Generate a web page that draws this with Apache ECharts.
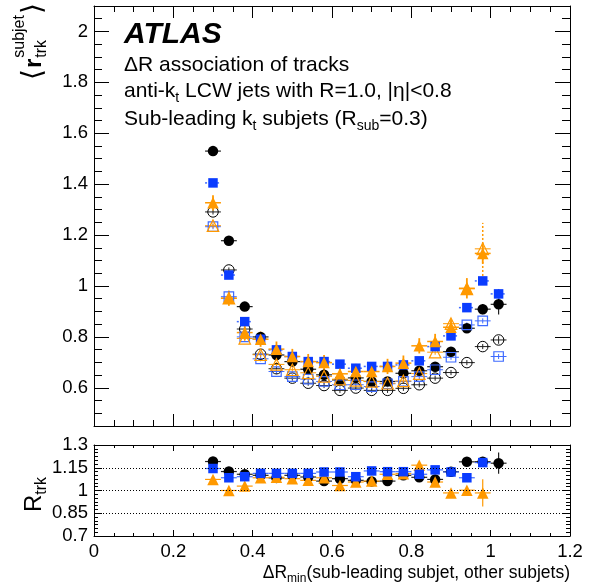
<!DOCTYPE html>
<html>
<head>
<meta charset="utf-8">
<script src="https://cdn.jsdelivr.net/npm/echarts@6/dist/echarts.min.js"></script>
<style>html,body{margin:0;padding:0;background:#fff;}#c{width:591px;height:586px;}</style>
</head>
<body>
<div id="c"></div>
<script>
// ---- data ----
const X = [0.30,0.34,0.38,0.42,0.46,0.50,0.54,0.58,0.62,0.66,0.70,0.74,0.78,0.82,0.86,0.90,0.94,0.98,1.02];
const X_HALF = 0.02;

const blackFilled  = [1.530,1.178,0.919,0.800,0.729,0.703,0.673,0.651,0.631,0.639,0.625,0.625,0.657,0.667,0.683,0.742,0.834,0.909,0.928];
const blackFilledE = [0.01,0.01,0.01,0.01,0.01,0.01,0.01,0.01,0.01,0.01,0.01,0.01,0.01,0.01,0.01,0.01,0.015,0.02,0.04];
const blackOpen    = [1.291,1.063,0.831,0.732,0.675,0.638,0.618,0.609,0.590,0.599,0.590,0.590,0.598,0.612,0.638,0.660,0.699,0.762,0.788];
const blackOpenE   = [0.01,0.01,0.01,0.01,0.01,0.01,0.01,0.01,0.01,0.01,0.01,0.01,0.01,0.01,0.01,0.01,0.01,0.01,0.015];

const blueFilled   = [1.405,1.043,0.860,0.791,0.749,0.723,0.703,0.703,0.693,0.677,0.684,0.684,0.690,0.706,0.762,0.804,0.915,1.020,0.969];
const blueFilledE  = [0.01,0.01,0.01,0.01,0.01,0.01,0.01,0.01,0.01,0.01,0.01,0.01,0.01,0.01,0.01,0.01,0.01,0.015,0.02];
const blueOpen     = [1.233,0.958,0.800,0.714,0.664,0.644,0.634,0.625,0.612,0.612,0.605,0.616,0.625,0.644,0.671,0.720,0.847,0.863,0.723];
const blueOpenE    = [0.01,0.01,0.01,0.01,0.01,0.01,0.01,0.01,0.01,0.01,0.01,0.01,0.01,0.01,0.01,0.01,0.01,0.01,0.01];

const orangeFilled  = [1.327,0.952,0.817,0.791,0.752,0.723,0.703,0.699,0.655,0.664,0.664,0.684,0.697,0.765,0.782,0.838,0.991,1.128];
const orangeFilledE = [0.03,0.03,0.03,0.03,0.03,0.03,0.03,0.03,0.03,0.03,0.03,0.03,0.03,0.03,0.03,0.03,0.04,0.04];
const orangeFilledSyst = [0,0,0,0,0,0,0,0,0,0,0,0,0,0,0,0,0,0.12];
const orangeOpen    = [1.237,0.952,0.794,0.730,0.692,0.671,0.659,0.645,0.634,0.629,0.625,0.618,0.627,0.656,0.740,0.852,0.989,1.146];
const orangeOpenE   = [0.01,0.01,0.01,0.01,0.01,0.01,0.01,0.01,0.01,0.01,0.01,0.01,0.01,0.01,0.01,0.01,0.01,0.01];

const ratioBlack   = [1.191,1.125,1.107,1.100,1.083,1.100,1.089,1.062,1.078,1.067,1.060,1.062,1.100,1.087,1.073,1.124,1.189,1.190,1.180];
const ratioBlackE  = [0.01,0.01,0.01,0.01,0.01,0.01,0.01,0.01,0.01,0.01,0.01,0.01,0.01,0.01,0.01,0.01,0.01,0.01,0.07];
const ratioBlue    = [1.145,1.084,1.091,1.113,1.113,1.113,1.113,1.122,1.122,1.091,1.129,1.124,1.124,1.107,1.136,1.122,1.084,1.184];
const ratioBlueE   = [0.01,0.01,0.01,0.01,0.01,0.01,0.01,0.01,0.01,0.01,0.01,0.01,0.01,0.01,0.01,0.01,0.01,0.015];
const ratioOrange  = [1.073,1.000,1.029,1.084,1.087,1.078,1.067,1.084,1.033,1.056,1.062,1.107,1.111,1.167,1.056,0.984,1.002,0.984];
const ratioOrangeE = [0.01,0.01,0.01,0.01,0.01,0.01,0.01,0.01,0.01,0.01,0.01,0.01,0.01,0.01,0.01,0.01,0.02,0.09];

const X_TICKS = [0,0.2,0.4,0.6,0.8,1,1.2];
const TOP_Y_TICKS = [0.6,0.8,1.0,1.2,1.4,1.6,1.8,2.0];
const LOW_Y_TICKS = [0.7,0.85,1.0,1.15,1.3];
const LOW_REF_LINES = [0.85,1.0,1.15];

// ---- styling ----
const FONT = "'Liberation Sans', Arial, sans-serif";
const BLACK = '#000000';
const BLUE = '#0a3cff';
const BLUE_L = '#3f6bff';
const ORANGE = '#ff9900';

const chart = echarts.init(document.getElementById('c'), null, {renderer:'canvas'});

function pts(arr, err) { return arr.map((v,i)=>[X[i], v, X_HALF, err ? err[i] : 0]); }

function errSeries(xi, yi, arr, err, style, vert, noHoriz) {
  return {
    type:'custom', xAxisIndex:xi, yAxisIndex:yi, clip:true, silent:true,
    encode:{x:0, y:1},
    data: pts(arr, err),
    renderItem: function(params, api) {
      const x = api.value(0), y = api.value(1), ex = api.value(2), ey = api.value(3);
      const ch = [];
      if (!noHoriz) {
        const a = api.coord([x-ex, y]), b = api.coord([x+ex, y]);
        ch.push({type:'line', shape:{x1:a[0],y1:a[1],x2:b[0],y2:b[1]}, style:Object.assign({}, style)});
      }
      if (vert && ey > 0) {
        const c = api.coord([x, y-ey]), d = api.coord([x, y+ey]);
        ch.push({type:'line', shape:{x1:c[0],y1:c[1],x2:d[0],y2:d[1]}, style:Object.assign({}, vert)});
      }
      return {type:'group', children:ch};
    }
  };
}

function marks(xi, yi, arr, symbol, size, fill, border, bw) {
  return {
    type:'scatter', xAxisIndex:xi, yAxisIndex:yi, symbol:symbol, symbolSize:size, silent:true,
    data: arr.map((v,i)=>[X[i], v]),
    itemStyle:{color:fill, borderColor:border, borderWidth:bw, opacity:1},
    emphasis:{disabled:true}
  };
}

const tickLab = v => String(Math.round(v*100)/100);

function xAxis(grid, pos, label, major, minor) {
  return {
    type:'value', gridIndex:grid, position:pos, min:0, max:1.2, interval:0.2,
    axisLine:{show:true, onZero:false, lineStyle:{color:BLACK, width:1}},
    axisTick:{show:true, inside:true, length:major, lineStyle:{color:BLACK, width:1}},
    minorTick:{show:true, splitNumber:4, length:minor, lineStyle:{color:BLACK, width:1}},
    splitLine:{show:false}, minorSplitLine:{show:false},
    axisLabel:{show:label, fontSize:18.5, fontFamily:FONT, color:BLACK, margin:6, formatter:tickLab}
  };
}
function yMajor(grid, pos, min, max, ticks, label, len) {
  return {
    type:'value', gridIndex:grid, position:pos, min:min, max:max,
    axisLine:{show:true, onZero:false, lineStyle:{color:BLACK, width:1}},
    axisTick:{show:true, inside:true, length:len, customValues:ticks, lineStyle:{color:BLACK, width:1}},
    splitLine:{show:false},
    axisLabel:{show:label, customValues:ticks, fontSize:18.5, fontFamily:FONT, color:BLACK, margin:6, formatter:tickLab}
  };
}
function yMinor(grid, pos, min, max, step, len) {
  return {
    type:'value', gridIndex:grid, position:pos, min:min, max:max, interval:step,
    axisLine:{show:false},
    axisTick:{show:true, inside:true, length:len, lineStyle:{color:BLACK, width:1}},
    splitLine:{show:false}, axisLabel:{show:false}
  };
}

// ---- text helpers ----
const mctx = document.createElement('canvas').getContext('2d');
function fontStr(p) { return (p.it?'italic ':'') + (p.b?'bold ':'') + p.fs + 'px ' + (p.fam || FONT); }
function tw(p) { mctx.font = fontStr(p); return mctx.measureText(p.t).width; }
function runs(x0, yc, parts, align) {
  const total = parts.reduce((s,p)=>s+tw(p)+(p.gap||0), 0);
  let x = align === 'right' ? x0 - total : x0;
  return parts.map(p => {
    const el = {type:'text', x:x, y:yc+(p.dy||0), silent:true,
      style:{text:p.t, font:fontStr(p), fill:BLACK, align:'left', verticalAlign:'middle'}};
    x += tw(p) + (p.gap||0);
    return el;
  });
}

// top y title  <r_trk^subjet>
const rT = {t:'r', fs:24, b:true};
const subT = {t:'trk', fs:16};
const supT = {t:'subjet', fs:16};
const brL = {t:'\u27E8', fs:28, fam:"'DejaVu Sans', sans-serif"};
const brR = {t:'\u27E9', fs:28, fam:"'DejaVu Sans', sans-serif"};
const wBrL = tw(brL), wR = tw(rT), wSub = Math.max(tw(subT), tw(supT));
const topTitle = {
  type:'group', x:34, y:80, rotation:Math.PI/2, silent:true,
  children:[
    {type:'text', x:0, y:0, style:{text:brL.t, font:fontStr(brL), fill:BLACK, verticalAlign:'middle'}},
    {type:'text', x:wBrL+1, y:0, style:{text:rT.t, font:fontStr(rT), fill:BLACK, verticalAlign:'middle'}},
    {type:'text', x:wBrL+wR+2, y:8, style:{text:subT.t, font:fontStr(subT), fill:BLACK, verticalAlign:'middle'}},
    {type:'text', x:wBrL+wR+2, y:-14, style:{text:supT.t, font:fontStr(supT), fill:BLACK, verticalAlign:'middle'}},
    {type:'text', x:wBrL+wR+wSub+3, y:0, style:{text:brR.t, font:fontStr(brR), fill:BLACK, verticalAlign:'middle'}}
  ]
};
const lowTitle = {
  type:'group', x:34, y:512, rotation:Math.PI/2, silent:true,
  children: runs(0, 0, [{t:'R', fs:24}, {t:'trk', fs:16, dy:8}])
};

const texts = [].concat(
  runs(124, 35, [{t:'ATLAS', fs:30, b:true, it:true}]),
  runs(124, 65, [{t:'\u0394R association of tracks', fs:21}]),
  runs(124, 91, [{t:'anti-k', fs:21}, {t:'t', fs:14, dy:7}, {t:' LCW jets with R=1.0, |\u03B7|<0.8', fs:21}]),
  runs(124, 119, [{t:'Sub-leading k', fs:21}, {t:'t', fs:14, dy:7}, {t:' subjets (R', fs:21}, {t:'sub', fs:14, dy:7}, {t:'=0.3)', fs:21}]),
  runs(570, 573, [{t:'\u0394R', fs:17.5}, {t:'min', fs:12, dy:6}, {t:'(sub-leading subjet, other subjets)', fs:17.5}], 'right'),
  [topTitle, lowTitle]
);

const solid = (c,w)=>({stroke:c, lineWidth:w});
const dotted = (c,w)=>({stroke:c, lineWidth:w, lineDash:[2,2]});

const option = {
  animation:false,
  backgroundColor:'#ffffff',
  grid:[
    {left:94, width:476, top:6, height:420},
    {left:94, width:476, top:445, height:91},
    {left:94, width:476, top:6, height:420},
    {left:94, width:476, top:445, height:91}
  ],
  xAxis:[
    xAxis(0,'bottom',false,12,6),
    xAxis(0,'top',false,12,6),
    xAxis(1,'bottom',true,6,3),
    xAxis(1,'top',false,6,3),
    {type:'value', gridIndex:2, min:0, max:1.2, show:false},
    {type:'value', gridIndex:3, min:0, max:1.2, show:false}
  ],
  yAxis:[
    yMajor(0,'left',0.45,2.1,TOP_Y_TICKS,true,15),
    yMajor(0,'right',0.45,2.1,TOP_Y_TICKS,false,15),
    yMajor(1,'left',0.7,1.3,LOW_Y_TICKS,true,8),
    yMajor(1,'right',0.7,1.3,LOW_Y_TICKS,false,8),
    yMinor(2,'left',0.45,2.1,0.05,8),
    yMinor(2,'right',0.45,2.1,0.05,8),
    yMinor(3,'left',0.7,1.3,0.025,4),
    yMinor(3,'right',0.7,1.3,0.025,4)
  ],
  series:[
    // top panel
    errSeries(0,0,blackFilled,blackFilledE,solid('#222',1.2),solid('#222',1.2)),
    marks(0,0,blackFilled,'circle',10.5,BLACK,BLACK,0),
    errSeries(0,0,blackOpen,blackOpenE,solid('#222',1),solid('#222',1)),
    marks(0,0,blackOpen,'circle',10.5,'rgba(0,0,0,0)',BLACK,1),
    errSeries(0,0,blueOpen,blueOpenE,solid(BLUE_L,1),solid(BLUE_L,1)),
    marks(0,0,blueOpen,'rect',9.5,'rgba(0,0,0,0)',BLUE_L,1.2),
    errSeries(0,0,orangeOpen,orangeOpenE,solid(ORANGE,1),solid(ORANGE,1)),
    marks(0,0,orangeOpen,'triangle',11.5,'rgba(0,0,0,0)',ORANGE,1.2),
    errSeries(0,0,blueFilled,blueFilledE,dotted(BLUE_L,1.5),dotted(BLUE_L,1.5)),
    marks(0,0,blueFilled,'rect',9.5,BLUE,BLUE,0),
    errSeries(0,0,orangeFilled,orangeFilledSyst,solid(ORANGE,1.5),dotted(ORANGE,1.5),true),
    errSeries(0,0,orangeFilled,orangeFilledE,solid(ORANGE,1.5),solid(ORANGE,1.8)),
    marks(0,0,orangeFilled,'triangle',11.5,ORANGE,ORANGE,0),
    // lower panel
    Object.assign(errSeries(2,2,ratioBlack,ratioBlackE,solid('#222',1.2),solid('#222',1.2)), {
      markLine:{silent:true, symbol:'none', label:{show:false},
        lineStyle:{color:BLACK, type:[1,2], width:1},
        data: LOW_REF_LINES.map(v=>({yAxis:v}))}
    }),
    marks(2,2,ratioBlack,'circle',10.5,BLACK,BLACK,0),
    errSeries(2,2,ratioOrange,ratioOrangeE,solid(ORANGE,1.2),solid(ORANGE,1.2)),
    marks(2,2,ratioOrange,'triangle',11.5,ORANGE,ORANGE,0),
    errSeries(2,2,ratioBlue,ratioBlueE,solid(BLUE_L,1.2),solid(BLUE_L,1.2)),
    marks(2,2,ratioBlue,'rect',9.5,BLUE,BLUE,0)
  ],
  graphic:{elements:texts}
};
chart.setOption(option);
</script>
</body>
</html>
